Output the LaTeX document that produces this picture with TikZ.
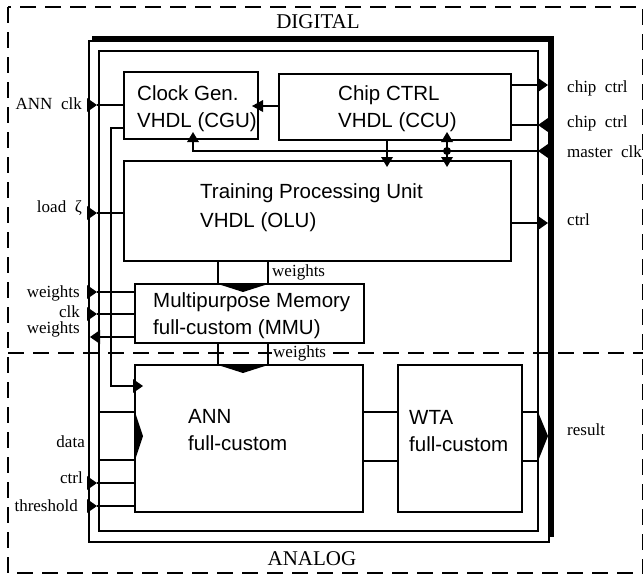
\documentclass[tikz,border=0pt]{standalone}
\usepackage{fontspec}
\setmainfont{Liberation Serif}
\newfontfamily\boxfont{Liberation Sans}
\newcommand\myTipR[2]{\fill (#1-10,#2-7) -- (#1,#2) -- (#1-10,#2+7) -- cycle;}
\newcommand\myTipL[2]{\fill (#1+10,#2-7) -- (#1,#2) -- (#1+10,#2+7) -- cycle;}
\newcommand\myTipU[2]{\fill (#1-6,#2+10) -- (#1,#2) -- (#1+6,#2+10) -- cycle;}
\newcommand\myTipD[2]{\fill (#1-6,#2-10) -- (#1,#2) -- (#1+6,#2-10) -- cycle;}
\tikzset{
  ln/.style={line width=2.4pt},
  boxstyle/.style={draw, line width=2.4pt, inner sep=0pt, outer sep=0pt, anchor=north west},
  btxt/.style={font=\boxfont\fontsize{20.5}{24}\selectfont, anchor=base west, inner sep=0pt},
  lbl/.style={font=\fontsize{17}{20}\selectfont, inner sep=0pt},
  big/.style={font=\fontsize{21}{24}\selectfont, inner sep=0pt, anchor=base},
  dashline/.style={line width=2.5pt, dash pattern=on 16pt off 9pt},
}
\begin{document}
\begin{tikzpicture}[x=1pt,y=-1pt]
\useasboundingbox (0,0) rectangle (643,576);
% region outlines
\draw[dashline] (8,7) rectangle (643.5,573);
\draw[dashline] (8,353) -- (643,353);
\node[big] (digital) at (318,28) {DIGITAL};
\node[big] (analog) at (312,565) {ANALOG};
% chip frames
\draw[ln] (89,41) rectangle (549,542);
\draw[line width=6pt] (92,38.5) -- (551,38.5) -- (551,537);
\draw[ln] (99,51) rectangle (538,531);
% boxes
\node[boxstyle, minimum width=134pt, minimum height=67pt] (cgu) at (124,72) {};
\node[boxstyle, minimum width=232pt, minimum height=66pt] (ccu) at (279,74) {};
\node[boxstyle, minimum width=387pt, minimum height=100pt] (tpu) at (124,161) {};
\node[boxstyle, minimum width=229pt, minimum height=59pt] (mmu) at (135,284) {};
\node[boxstyle, minimum width=228pt, minimum height=147pt] (ann) at (135,365) {};
\node[boxstyle, minimum width=124pt, minimum height=147pt] (wta) at (398,365) {};
% box texts
\node[btxt] (t1) at (137,100) {Clock Gen.};
\node[btxt] (t2) at (137,127) {VHDL (CGU)};
\node[btxt] (t3) at (338,100) {Chip CTRL};
\node[btxt] (t4) at (338,127) {VHDL (CCU)};
\node[btxt] (t5) at (200,198.5) {Training Processing Unit};
\node[btxt] (t6) at (200,227.5) {VHDL (OLU)};
\node[btxt] (t7) at (153,307.5) {Multipurpose Memory};
\node[btxt] (t8) at (153,334.5) {full-custom (MMU)};
\node[btxt] (t9) at (188,423.5) {ANN};
\node[btxt] (t10) at (188,450.5) {full-custom};
\node[btxt] (t11) at (409,424.5) {WTA};
\node[btxt] (t12) at (409,451) {full-custom};
% pin labels left
\node[lbl, anchor=base east] (l1) at (82,109) {ANN\ \ clk};
\node[lbl, anchor=base east] (l2) at (82,212) {load\ \ ζ};
\node[lbl, anchor=base east] (l3) at (80,297) {weights};
\node[lbl, anchor=base east] (l4) at (80,317) {clk};
\node[lbl, anchor=base east] (l5) at (80,333) {weights};
\node[lbl, anchor=base east] (l6) at (85,447) {data};
\node[lbl, anchor=base east] (l7) at (83,483) {ctrl};
\node[lbl, anchor=base east] (l8) at (78,511) {threshold};
% pin labels right
\node[lbl, anchor=base west] (r1) at (567,92) {chip\ \ ctrl};
\node[lbl, anchor=base west] (r2) at (567,127) {chip\ \ ctrl};
\node[lbl, anchor=base west] (r3) at (567,157) {master\ \ clk};
\node[lbl, anchor=base west] (r4) at (567,225) {ctrl};
\node[lbl, anchor=base west] (r5) at (567,435) {result};
% pin coordinates
\coordinate (pAnnClk) at (97,105);
\coordinate (pLoad) at (97,213);
\coordinate (pW1) at (97,292);
\coordinate (pClk) at (97,314);
\coordinate (pW2) at (90,337);
\coordinate (pCtrlA) at (97,483);
\coordinate (pThr) at (97,506);
\coordinate (pChip1) at (548,85);
\coordinate (pChip2) at (538,125);
\coordinate (pMclk) at (538,151);
\coordinate (pCtrlT) at (548,223);
% left side connections
\draw[ln] (pAnnClk) -- (cgu.west |- pAnnClk); \myTipR{97}{105}
\draw[ln] (pLoad) -- (tpu.west |- pLoad); \myTipR{97}{213}
\draw[ln] (pW1) -- (mmu.west |- pW1); \myTipR{97}{292}
\draw[ln] (pClk) -- (mmu.west |- pClk); \myTipR{97}{314}
\draw[ln] (100,337) -- (mmu.west |- pW2); \myTipL{90}{337}
\draw[ln] (pCtrlA) -- (ann.west |- pCtrlA); \myTipR{97}{483}
\draw[ln] (pThr) -- (ann.west |- pThr); \myTipR{97}{506}
% clock to ANN
\draw[ln] (cgu.west |- 0,128) -- (111,128) -- (111,386) -- (ann.west |- 0,386);
\myTipR{143}{386}
% data bus
\draw[ln] (99,412) -- (ann.west |- 0,412);
\draw[ln] (99,460) -- (ann.west |- 0,460);
\fill (135,412) -- (143,436) -- (135,460) -- cycle;
% CCU -> CGU
\draw[ln] (ccu.west |- 0,106) -- (cgu.east |- 0,106);
\fill (263,100) -- (252,106) -- (263,112) -- cycle;
% master clock line
\draw[ln] (pMclk) -- (193,151) -- (cgu.south -| 193,0);
\myTipU{193}{132}
\myTipL{538}{151}
% chip ctrl
\draw[ln] (ccu.east |- pChip1) -- (538,85); \myTipR{548}{85}
\draw[ln] (ccu.east |- pChip2) -- (548,125); \myTipL{538}{125}
% CCU -> TPU
\draw[ln] (ccu.south -| 387,0) -- (tpu.north -| 387,0); \myTipD{387}{167}
\draw[ln] (ccu.south -| 447,0) -- (tpu.north -| 447,0);
\myTipU{447}{132} \myTipD{447}{167}
\fill (447,151) circle (4);
% TPU -> ctrl
\draw[ln] (tpu.east |- pCtrlT) -- (538,223); \myTipR{548}{223}
% weight buses
\draw[ln] (tpu.south -| 218,0) -- (mmu.north -| 218,0);
\draw[ln] (tpu.south -| 268,0) -- (mmu.north -| 268,0);
\fill (218,284) -- (268,284) -- (243,292) -- cycle;
\node[lbl, anchor=base west] (wb1) at (272,276) {weights};
\draw[ln] (mmu.south -| 218,0) -- (ann.north -| 218,0);
\draw[ln] (mmu.south -| 268,0) -- (ann.north -| 268,0);
\fill (218,365) -- (268,365) -- (243,373) -- cycle;
\node[lbl, anchor=base west, fill=white, inner sep=1pt] (wb2) at (272,357) {weights};
% ANN -> WTA
\draw[ln] (ann.east |- 0,412) -- (wta.west |- 0,412);
\draw[ln] (ann.east |- 0,461) -- (wta.west |- 0,461);
% WTA -> result
\draw[ln] (wta.east |- 0,412) -- (538,412);
\draw[ln] (wta.east |- 0,461) -- (538,461);
\fill (538,412) -- (548,436) -- (538,461) -- cycle;
\end{tikzpicture}
\end{document}
